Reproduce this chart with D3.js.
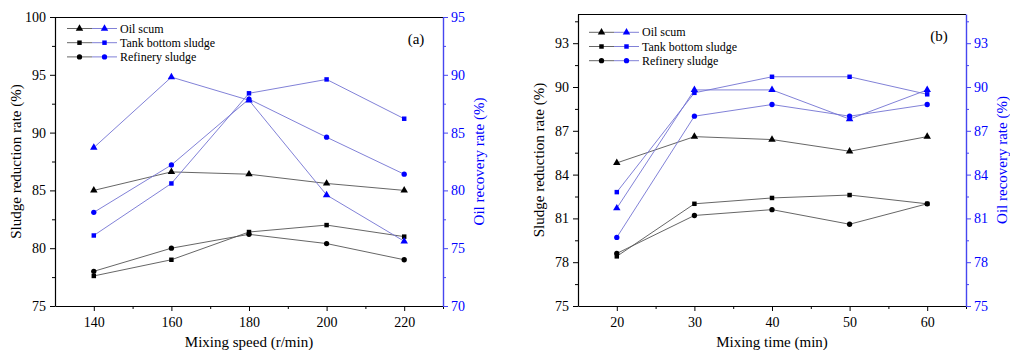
<!DOCTYPE html>
<html>
<head>
<meta charset="utf-8">
<script src="https://cdn.jsdelivr.net/npm/d3@7"></script>
<style>
  body { margin: 0; background: #fff; }
</style>
</head>
<body>
<div id="chart"></div>
<script>
// series names (legend)
const seriesNames = ['Oil scum', 'Tank bottom sludge', 'Refinery sludge'];

// panel (a) mixing speed
const speedX = [140, 160, 180, 200, 220];
const speedReductionOil = [85.0, 86.6, 86.4, 85.6, 85.0];
const speedReductionTank = [77.6, 79.0, 81.4, 82.0, 81.0];
const speedReductionRefinery = [78.0, 80.0, 81.2, 80.4, 79.0];
const speedRecoveryOil = [83.7, 89.8, 87.8, 79.6, 75.6];
const speedRecoveryTank = [76.1, 80.6, 88.4, 89.6, 86.2];
const speedRecoveryRefinery = [78.1, 82.2, 87.9, 84.6, 81.4];
const speedLeftTicks = [75, 80, 85, 90, 95, 100];
const speedRightTicks = [70, 75, 80, 85, 90, 95];

// panel (b) mixing time
const timeX = [20, 30, 40, 50, 60];
const timeReductionOil = [84.8, 86.6, 86.4, 85.6, 86.6];
const timeReductionTank = [78.4, 82.0, 82.4, 82.6, 82.0];
const timeReductionRefinery = [78.6, 81.2, 81.6, 80.6, 82.0];
const timeRecoveryOil = [81.7, 89.8, 89.8, 87.8, 89.8];
const timeRecoveryTank = [82.8, 89.6, 90.7, 90.7, 89.5];
const timeRecoveryRefinery = [79.7, 88.0, 88.8, 88.0, 88.8];
const timeLeftTicks = [75, 78, 81, 84, 87, 90, 93];
const timeRightTicks = [75, 78, 81, 84, 87, 90, 93];

const FONT = 'Liberation Serif';
const BLUE = '#0000ff';
const BLUE_AXIS = '#4646f0';
const BLUE_LINE = '#7373d2';
const GREY_LINE = '#555';
const shapes = [d3.symbolTriangle, d3.symbolSquare, d3.symbolCircle];
const shapeSize = [24, 20, 22];

const svg = d3.select('#chart').append('svg')
  .attr('width', 1010)
  .attr('height', 350)
  .attr('font-family', FONT);

function drawPanel(opt) {
  const { left, top, right, bottom, xDomain, xTicks, xMinor, yDomain, yTicks, yMinor,
    y2Domain, y2Ticks, y2Minor, reduction, recovery, xTitle, tag, legendX, legendY } = opt;

  const x = d3.scaleLinear().domain(xDomain).range([left, right]);
  const y = d3.scaleLinear().domain(yDomain).range([bottom, top]);
  const y2 = d3.scaleLinear().domain(y2Domain).range([bottom, top]);
  const g = svg.append('g');

  // top frame line
  g.append('line')
    .attr('x1', left).attr('x2', right)
    .attr('y1', top + 0.5).attr('y2', top + 0.5)
    .attr('stroke', '#000').attr('stroke-width', 1.2);

  // x axis
  const xAxis = g.append('g')
    .attr('transform', `translate(0,${bottom})`)
    .call(d3.axisBottom(x).tickValues(xTicks).tickSize(5).tickPadding(6).tickSizeOuter(0));
  g.append('g')
    .attr('transform', `translate(0,${bottom})`)
    .call(d3.axisBottom(x).tickValues(xMinor).tickSize(3).tickFormat('').tickSizeOuter(0))
    .select('.domain').remove();

  // left axis
  const yAxis = g.append('g')
    .attr('transform', `translate(${left},0)`)
    .call(d3.axisLeft(y).tickValues(yTicks).tickSize(5).tickPadding(4).tickSizeOuter(0));
  g.append('g')
    .attr('transform', `translate(${left},0)`)
    .call(d3.axisLeft(y).tickValues(yMinor).tickSize(3).tickFormat('').tickSizeOuter(0))
    .select('.domain').remove();

  // right axis (blue)
  const y2Axis = g.append('g')
    .attr('transform', `translate(${right},0)`)
    .call(d3.axisRight(y2).tickValues(y2Ticks).tickSize(5).tickPadding(3).tickSizeOuter(0));
  const y2Min = g.append('g')
    .attr('transform', `translate(${right},0)`)
    .call(d3.axisRight(y2).tickValues(y2Minor).tickSize(3).tickFormat('').tickSizeOuter(0));
  y2Min.select('.domain').remove();

  [xAxis, yAxis].forEach(a => {
    a.attr('font-family', FONT).attr('font-size', 14);
    a.selectAll('text').attr('fill', '#000');
    a.select('.domain').attr('stroke-width', 1.2);
  });
  y2Axis.attr('font-family', FONT).attr('font-size', 14);
  y2Axis.selectAll('text').attr('fill', BLUE);
  y2Axis.select('.domain').attr('stroke', BLUE_AXIS).attr('stroke-width', 1.4);
  y2Axis.selectAll('.tick line').attr('stroke', BLUE_AXIS);
  y2Min.selectAll('.tick line').attr('stroke', BLUE_AXIS);

  // lines + markers
  const line = (scale) => d3.line().x((d, i) => x(opt.xs[i])).y(d => scale(d));

  reduction.forEach((vals, k) => {
    g.append('path').datum(vals)
      .attr('d', line(y)).attr('fill', 'none')
      .attr('stroke', GREY_LINE).attr('stroke-width', 0.9);
  });
  recovery.forEach((vals, k) => {
    g.append('path').datum(vals)
      .attr('d', line(y2)).attr('fill', 'none')
      .attr('stroke', BLUE_LINE).attr('stroke-width', 0.9);
  });
  reduction.forEach((vals, k) => {
    g.selectAll(null).data(vals).enter().append('path')
      .attr('d', d3.symbol().type(shapes[k]).size(shapeSize[k]))
      .attr('transform', (d, i) => `translate(${x(opt.xs[i])},${y(d)})`)
      .attr('fill', '#000');
  });
  recovery.forEach((vals, k) => {
    g.selectAll(null).data(vals).enter().append('path')
      .attr('d', d3.symbol().type(shapes[k]).size(shapeSize[k]))
      .attr('transform', (d, i) => `translate(${x(opt.xs[i])},${y2(d)})`)
      .attr('fill', BLUE);
  });

  // legend
  seriesNames.forEach((name, k) => {
    const ly = legendY + k * 14.2;
    const lg = g.append('g');
    lg.append('line').attr('x1', legendX).attr('x2', legendX + 25)
      .attr('y1', ly).attr('y2', ly).attr('stroke', GREY_LINE).attr('stroke-width', 0.9);
    lg.append('line').attr('x1', legendX + 25).attr('x2', legendX + 50)
      .attr('y1', ly).attr('y2', ly).attr('stroke', BLUE_LINE).attr('stroke-width', 0.9);
    lg.append('path').attr('d', d3.symbol().type(shapes[k]).size(shapeSize[k]))
      .attr('transform', `translate(${legendX + 12.5},${ly})`).attr('fill', '#000');
    lg.append('path').attr('d', d3.symbol().type(shapes[k]).size(shapeSize[k]))
      .attr('transform', `translate(${legendX + 37.5},${ly})`).attr('fill', BLUE);
    lg.append('text').attr('x', legendX + 53).attr('y', ly + 4)
      .attr('font-size', 12).text(name);
  });

  // panel tag
  g.append('text').attr('x', right - 27).attr('y', top + 27)
    .attr('text-anchor', 'middle').attr('font-size', 15).text(tag);

  // titles
  g.append('text')
    .attr('transform', `translate(${left - 34},${(top + bottom) / 2}) rotate(-90)`)
    .attr('text-anchor', 'middle').attr('font-size', 15)
    .text('Sludge reduction rate (%)');
  g.append('text')
    .attr('transform', `translate(${right + 41},${(top + bottom) / 2}) rotate(-90)`)
    .attr('text-anchor', 'middle').attr('font-size', 15).attr('fill', BLUE)
    .text('Oil recovery rate (%)');
  g.append('text')
    .attr('x', (left + right) / 2).attr('y', bottom + 41)
    .attr('text-anchor', 'middle').attr('font-size', 15)
    .text(xTitle);
}

drawPanel({
  left: 55, top: 17, right: 443, bottom: 306,
  xs: speedX,
  xDomain: [130, 230], xTicks: speedX, xMinor: [150, 170, 190, 210, 230],
  yDomain: [75, 100], yTicks: speedLeftTicks, yMinor: [77.5, 82.5, 87.5, 92.5, 97.5],
  y2Domain: [70, 95], y2Ticks: speedRightTicks, y2Minor: [72.5, 77.5, 82.5, 87.5, 92.5],
  reduction: [speedReductionOil, speedReductionTank, speedReductionRefinery],
  recovery: [speedRecoveryOil, speedRecoveryTank, speedRecoveryRefinery],
  xTitle: 'Mixing speed (r/min)', tag: '(a)', legendX: 67, legendY: 28.5
});

drawPanel({
  left: 578, top: 14, right: 966, bottom: 306,
  xs: timeX,
  xDomain: [15, 65], xTicks: timeX, xMinor: [25, 35, 45, 55, 65],
  yDomain: [75, 95], yTicks: timeLeftTicks, yMinor: [76.5, 79.5, 82.5, 85.5, 88.5, 91.5, 94.5],
  y2Domain: [75, 95], y2Ticks: timeRightTicks, y2Minor: [76.5, 79.5, 82.5, 85.5, 88.5, 91.5, 94.5],
  reduction: [timeReductionOil, timeReductionTank, timeReductionRefinery],
  recovery: [timeRecoveryOil, timeRecoveryTank, timeRecoveryRefinery],
  xTitle: 'Mixing time (min)', tag: '(b)', legendX: 589, legendY: 32.3
});
</script>
</body>
</html>
